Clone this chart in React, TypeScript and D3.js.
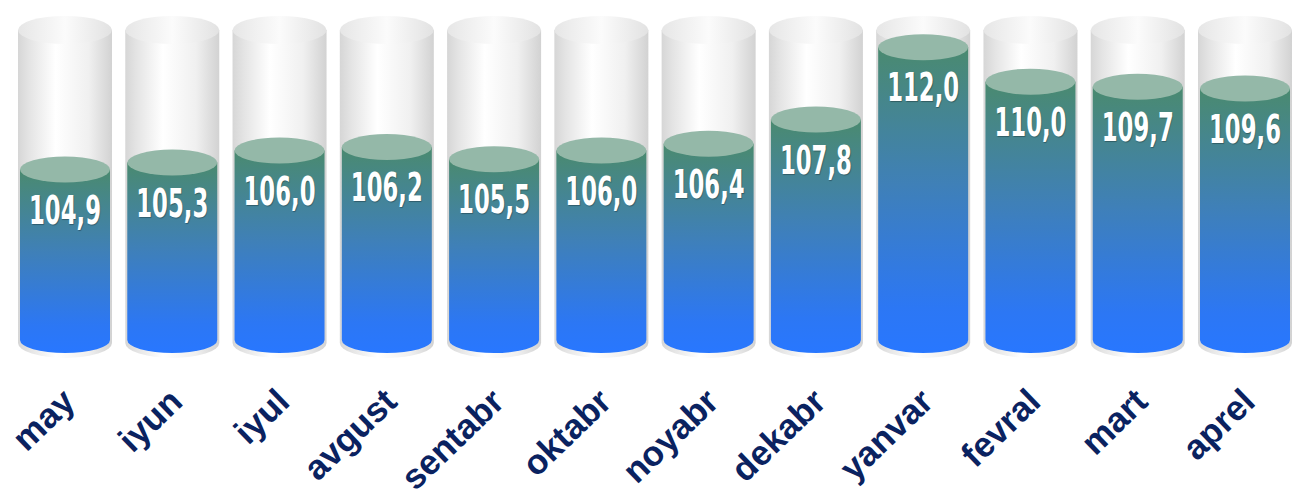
import React from "react";
import * as d3 from "d3";

const months = ["may", "iyun", "iyul", "avgust", "sentabr", "oktabr", "noyabr", "dekabr", "yanvar", "fevral", "mart", "aprel"];
const values = [104.9, 105.3, 106.0, 106.2, 105.5, 106.0, 106.4, 107.8, 112.0, 110.0, 109.7, 109.6];
const yDomain = [95, 113];

const W = 1294;
const H = 496;
const BASE = 340;
const RX = 45;
const RY = 13;

const fmt = (v: number) => d3.format(".1f")(v).replace(".", ",");

export default function App() {
  const x = d3.scalePoint<string>().domain(months).range([65, 1245]);
  const y = d3.scaleLinear().domain(yDomain).range([BASE, 30]);
  const glassTop = y(yDomain[1]);

  return (
    <svg width={W} height={H} style={{ position: "absolute", left: 0, top: 0, background: "#fff" }}>
      <defs>
        <linearGradient id="glass" x1="0" x2="1" y1="0" y2="0">
          <stop offset="0" stopColor="#d6d6d6" />
          <stop offset="0.12" stopColor="#e4e4e4" />
          <stop offset="0.4" stopColor="#ffffff" />
          <stop offset="0.75" stopColor="#f0f0f0" />
          <stop offset="1" stopColor="#d2d2d2" />
        </linearGradient>
        <linearGradient id="glassTop" x1="0" x2="1" y1="0" y2="0">
          <stop offset="0" stopColor="#e6e6e6" />
          <stop offset="0.5" stopColor="#fbfbfb" />
          <stop offset="1" stopColor="#e2e2e2" />
        </linearGradient>
        <linearGradient id="liquid" x1="0" x2="0" y1="0" y2="1">
          <stop offset="0" stopColor="#4a8a6f" />
          <stop offset="0.45" stopColor="#3f80b8" />
          <stop offset="0.85" stopColor="#2c77f4" />
          <stop offset="1" stopColor="#2877ff" />
        </linearGradient>
      </defs>

      {months.map((m, i) => {
        const cx = x(m) as number;
        const top = y(values[i]);
        const gl = cx - RX - 2;
        const gr = cx + RX + 2;
        const gb = BASE + 3;
        const l = cx - RX;
        const r = cx + RX;
        return (
          <g key={m}>
            {/* glass */}
            <path
              d={`M${gl},${glassTop} L${gl},${gb} A${RX + 2},${RY + 2} 0 0 0 ${gr},${gb} L${gr},${glassTop} Z`}
              fill="url(#glass)"
            />
            <ellipse cx={cx} cy={glassTop} rx={RX + 2} ry={RY + 1} fill="url(#glassTop)" />
            {/* liquid */}
            <path
              d={`M${l},${top} L${l},${BASE} A${RX},${RY} 0 0 0 ${r},${BASE} L${r},${top} Z`}
              fill="url(#liquid)"
            />
            <ellipse cx={cx} cy={top} rx={RX} ry={RY} fill="#94b8a8" />
            <text
              x={cx}
              y={top + 54}
              textAnchor="middle"
              fill="#fff"
              fontFamily="'Liberation Sans Narrow', 'DejaVu Sans Condensed', sans-serif"
              fontWeight="bold"
              fontSize={39}
              textLength={72}
              lengthAdjust="spacingAndGlyphs"
              style={{ textShadow: "1px 1px 1px rgba(0,0,0,0.3)" }}
            >
              {fmt(values[i])}
            </text>
            <text
              transform={`translate(${cx + 12},404) rotate(-44)`}
              textAnchor="end"
              fill="#0a2260"
              fontFamily="'Liberation Sans', Arial, sans-serif"
              fontWeight="bold"
              fontSize={35}
            >
              {m}
            </text>
          </g>
        );
      })}
    </svg>
  );
}
